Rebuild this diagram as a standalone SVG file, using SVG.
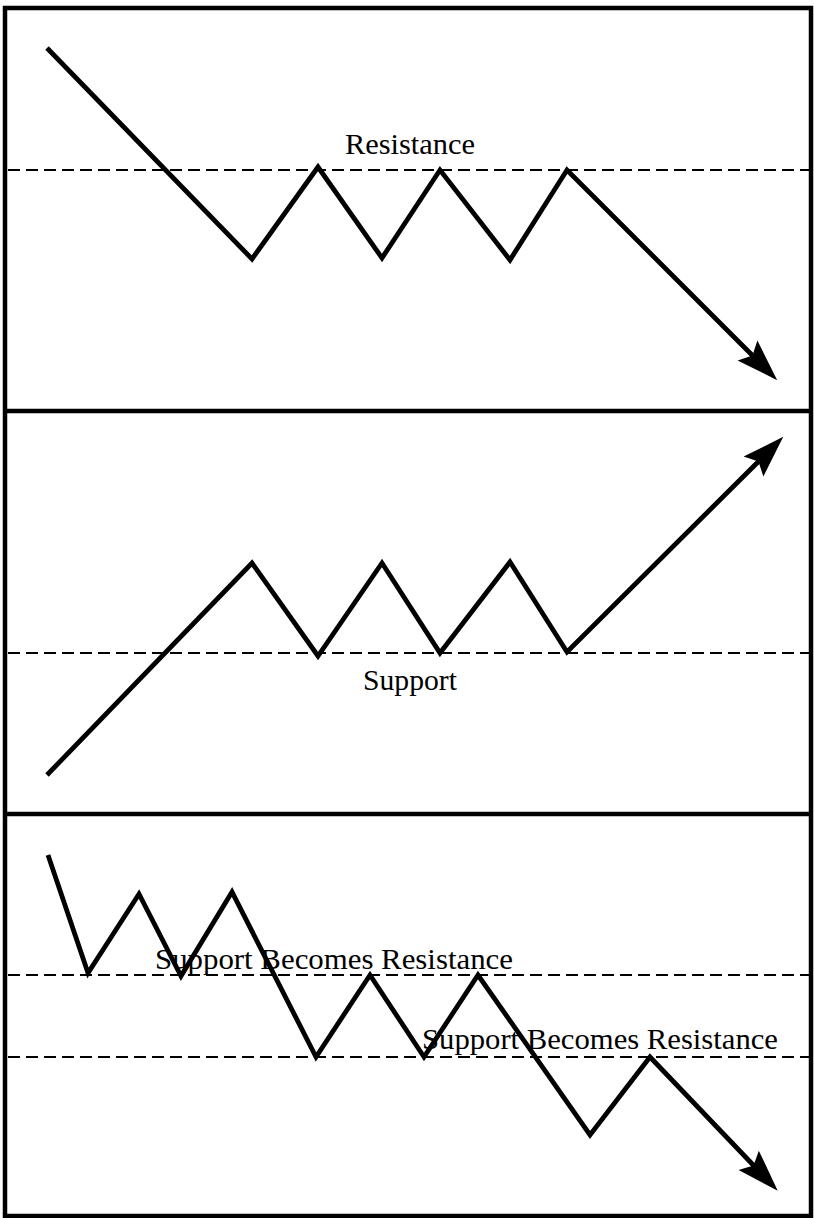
<svg xmlns="http://www.w3.org/2000/svg" width="814" height="1218" viewBox="0 0 814 1218">
<style>
.frame{fill:none;stroke:#000;stroke-width:4.5}
.dash{fill:none;stroke:#000;stroke-width:2;stroke-dasharray:12,6}
.trend{fill:none;stroke:#000;stroke-width:4.8;stroke-linejoin:miter;stroke-miterlimit:10}
.lbl{font-family:"Liberation Serif","Times New Roman",serif;font-size:30px;fill:#000}
</style>
<defs>
<marker id="ah" markerUnits="userSpaceOnUse" markerWidth="80" markerHeight="80" refX="0" refY="0" orient="auto" overflow="visible">
<path d="M30,0 L-12,-14 L-5,0 L-12,14 Z" fill="#000"/>
</marker>
</defs>
<rect width="814" height="1218" fill="#fff"/>
<g id="frame">
<rect class="frame" x="5" y="8" width="806" height="1208"/>
<line class="frame" x1="5" y1="411" x2="811" y2="411"/>
<line class="frame" x1="5" y1="814" x2="811" y2="814"/>
</g>
<g id="guides">
<line class="dash" x1="8" y1="170" x2="810" y2="170"/>
<line class="dash" x1="8" y1="653" x2="810" y2="653"/>
<line class="dash" x1="8" y1="975" x2="810" y2="975"/>
<line class="dash" x1="8" y1="1057" x2="810" y2="1057"/>
</g>
<g id="connectors">
<polyline class="trend" marker-end="url(#ah)" points="47,48 252,259 318,167 382,258 440,170 510,260 567,170 756,359"/>
<polyline class="trend" marker-end="url(#ah)" points="47,775 252,563 318,656 382,563 440,653 510,562 567,652 762,458"/>
<polyline class="trend" marker-end="url(#ah)" points="48,855 88,973 139,894 181,976 232,892 316,1057 370,975 424,1057 478,975 590,1135 650,1057 757,1169"/>
</g>
<g id="label-resistance"><text class="lbl" x="345" y="154" textLength="130" lengthAdjust="spacingAndGlyphs">Resistance</text></g>
<g id="label-support"><text class="lbl" x="363" y="690" textLength="94" lengthAdjust="spacingAndGlyphs">Support</text></g>
<g id="label-sbr1"><text class="lbl" x="155" y="969" textLength="358" lengthAdjust="spacingAndGlyphs">Support Becomes Resistance</text></g>
<g id="label-sbr2"><text class="lbl" x="422" y="1049" textLength="356" lengthAdjust="spacingAndGlyphs">Support Becomes Resistance</text></g>
</svg>
